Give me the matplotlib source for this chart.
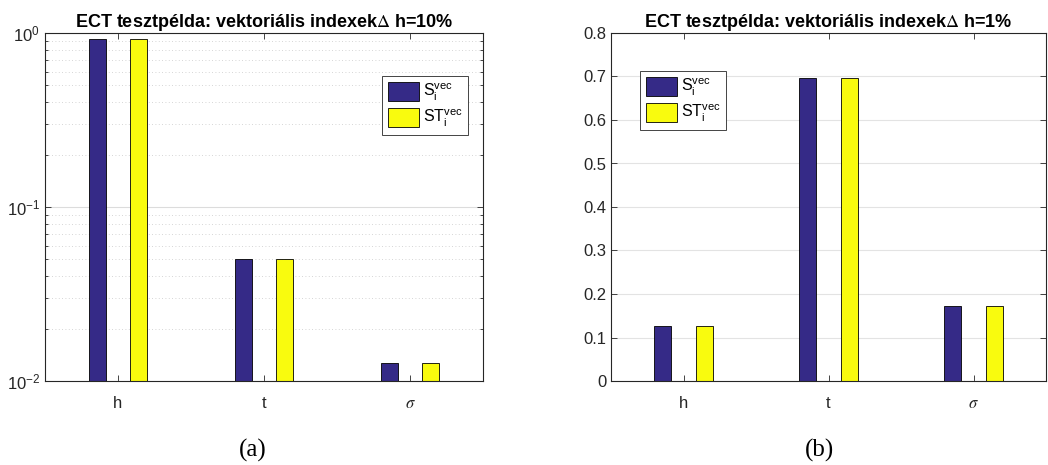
import numpy as np
import matplotlib.pyplot as plt
from matplotlib.ticker import FixedLocator, FuncFormatter, LogLocator, NullFormatter

# sensitivity indices
params = ["h", "t", r"$\mathit{\sigma}$"]
s_vec_10 = [0.925, 0.0505, 0.0127]
st_vec_10 = [0.925, 0.0505, 0.0127]
s_vec_1 = [0.127, 0.696, 0.173]
st_vec_1 = [0.127, 0.696, 0.173]

titles = ["ECT tesztpélda: vektoriális indexek$\\mathrm{\\Delta}$ h=10%",
          "ECT tesztpélda: vektoriális indexek$\\mathrm{\\Delta}$ h=1%"]
captions = ["(a)", "(b)"]
legend_labels = [r"$\mathregular{S_i^{vec}}$", r"$\mathregular{ST_i^{vec}}$"]

blue = "#352a87"
yellow = "#f9fb0e"
dark = "#262626"

plt.rcParams["font.family"] = ["Liberation Sans", "DejaVu Sans"]
plt.rcParams["mathtext.fontset"] = "stix"
plt.rcParams["mathtext.default"] = "regular"

fig = plt.figure(figsize=(10.48, 4.65), dpi=100)
ax1 = fig.add_axes([45 / 1048, 1 - 381 / 465, 438 / 1048, 348 / 465])
ax2 = fig.add_axes([611 / 1048, 1 - 381 / 465, 435 / 1048, 348 / 465])

x = np.arange(1, len(params) + 1)
w = 0.116
off = 0.143


def style(ax):
    for sp in ax.spines.values():
        sp.set_color(dark)
        sp.set_linewidth(0.8)
    ax.set_xlim(0.5, 3.5)
    ax.set_xticks(x)
    ax.set_xticklabels(params, fontsize=12)
    ax.tick_params(axis="both", which="both", direction="in", top=True, right=True,
                   colors=dark, labelsize=12, width=0.6)
    ax.tick_params(axis="x", pad=11, length=4)
    ax.tick_params(axis="y", which="major", length=4)
    ax.set_axisbelow(True)


def add_legend(ax, anchor):
    leg = ax.legend(loc="upper left", bbox_to_anchor=anchor, fontsize=11.5,
                    fancybox=False, edgecolor=dark, framealpha=1, handlelength=1.95,
                    handleheight=1.45, handletextpad=0.25, borderpad=0.35,
                    labelspacing=0.3, borderaxespad=0)
    leg.get_frame().set_linewidth(0.6)


# (a) log scale
ax = ax1
ax.bar(x - off, s_vec_10, w, color=blue, edgecolor="black", linewidth=0.6,
       label=legend_labels[0])
ax.bar(x + off, st_vec_10, w, color=yellow, edgecolor="black", linewidth=0.6,
       label=legend_labels[1])
ax.set_yscale("log")
ax.set_ylim(1e-2, 1)
style(ax)
ax.yaxis.set_major_locator(FixedLocator([1e-2, 1e-1, 1]))
ax.yaxis.set_major_formatter(FuncFormatter(lambda v, p: r"$10^{%d}$" % round(np.log10(v))))
ax.yaxis.set_minor_locator(LogLocator(base=10, subs=np.arange(2, 10)))
ax.yaxis.set_minor_formatter(NullFormatter())
ax.tick_params(axis="y", which="minor", length=2)
ax.tick_params(axis="x", which="minor", bottom=False, top=False)
ax.grid(axis="y", which="major", color="#dcdcdc", linewidth=0.8)
ax.grid(axis="y", which="minor", color="#c8c8c8", linestyle=(0, (1, 3)), linewidth=0.6)
ax.set_title(titles[0], fontsize=13, fontweight="bold", pad=4)
add_legend(ax, (0.77, 0.875))

# (b) linear scale
ax = ax2
ax.bar(x - off, s_vec_1, w, color=blue, edgecolor="black", linewidth=0.6,
       label=legend_labels[0])
ax.bar(x + off, st_vec_1, w, color=yellow, edgecolor="black", linewidth=0.6,
       label=legend_labels[1])
ax.set_ylim(0, 0.8)
style(ax)
ax.set_yticks(np.arange(0, 0.81, 0.1))
ax.yaxis.set_major_formatter(FuncFormatter(lambda v, p: "0" if abs(v) < 1e-9 else "%.1f" % v))
ax.grid(axis="y", color="#e3e3e3", linewidth=0.8)
ax.set_title(titles[1], fontsize=13, fontweight="bold", pad=4)
add_legend(ax, (0.067, 0.89))

fig.text(253 / 1048, 1 - 450 / 465, captions[0], ha="center", va="center",
         fontsize=18, family="Liberation Serif")
fig.text(820 / 1048, 1 - 450 / 465, captions[1], ha="center", va="center",
         fontsize=18, family="Liberation Serif")

fig.savefig("out.png", dpi=100)
